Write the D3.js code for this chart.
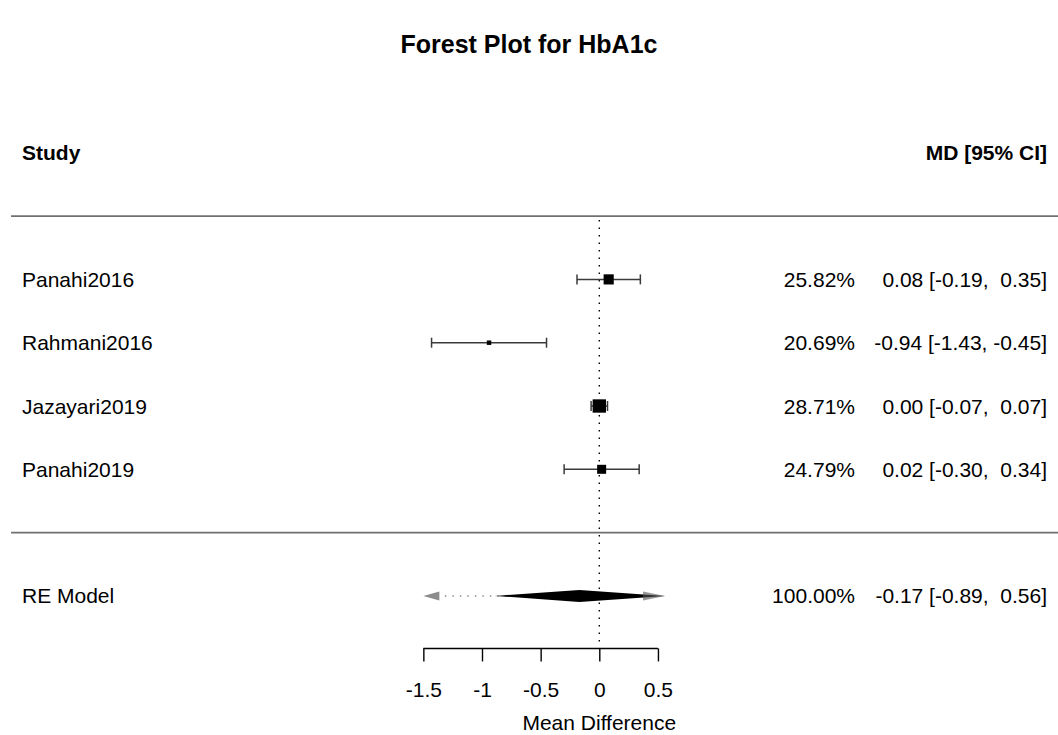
<!DOCTYPE html>
<html>
<head>
<meta charset="utf-8">
<script src="https://cdn.jsdelivr.net/npm/d3@7"></script>
<style>
  html, body { margin: 0; padding: 0; background: #fff; }
  svg text { font-family: "Liberation Sans", Arial, Helvetica, sans-serif; fill: #000; white-space: pre; }
</style>
</head>
<body>
<svg id="chart" width="1058" height="735"></svg>
<script>
// ---- data ----
const studies   = ["Panahi2016", "Rahmani2016", "Jazayari2019", "Panahi2019"];
const estimates = [0.08, -0.94, 0.00, 0.02];
const ciLower   = [-0.19, -1.43, -0.07, -0.30];
const ciUpper   = [0.35, -0.45, 0.07, 0.34];
const weights   = [25.82, 20.69, 28.71, 24.79];
const summaryLabel = ["RE Model"];
const summaryEst   = [-0.17];
const summaryLower = [-0.89];
const summaryUpper = [0.56];
const summaryWeight = [100.00];
const predShown    = [-1.5, 0.56];   // prediction interval as drawn (clipped, arrows at both ends)
const axisTicks    = [-1.5, -1, -0.5, 0, 0.5];
const tickLabels   = ["-1.5", "-1", "-0.5", "0", "0.5"];
const titleText    = "Forest Plot for HbA1c";
const xLabel       = "Mean Difference";
const headLeft     = "Study";
const headRight    = "MD [95% CI]";

// ---- layout ----
const svg = d3.select("#chart");
const x = d3.scaleLinear().domain([-1.5, 0.5]).range([423.35, 657.95]);
const y = d3.scaleLinear().domain([0, 6]).range([532.6, 152.8]);
const fs = 21;
const k = studies.length;
const rows = studies.map((d, i) => k - i);
const sumRow = -1;
const axisRow = -1.83;
const loc = d3.formatLocale({decimal: ".", thousands: ",", grouping: [3], currency: ["", ""], minus: "-"});
const f2 = loc.format(".2f");
const fpad = v => f2(v).padStart(5, " ");

// title
svg.append("text").attr("x", 529).attr("y", 53).attr("text-anchor", "middle")
  .style("font-size", "25px").style("font-weight", "bold").text(titleText);

// headers
svg.append("text").attr("x", 22).attr("y", y(6) + 7.5).style("font-size", fs + "px")
  .style("font-weight", "bold").text(headLeft);
svg.append("text").attr("x", 1047).attr("y", y(6) + 7.5).attr("text-anchor", "end")
  .style("font-size", fs + "px").style("font-weight", "bold").text(headRight);

// horizontal separators
[5, 0].forEach(r => {
  svg.append("line").attr("x1", 11).attr("x2", 1058).attr("y1", y(r)).attr("y2", y(r))
    .attr("stroke", "#707070").attr("stroke-width", 1.6);
});

// reference line at 0
svg.append("line").attr("x1", x(0)).attr("x2", x(0)).attr("y1", y(5) + 4).attr("y2", y(axisRow) - 5)
  .attr("stroke", "#000").attr("stroke-width", 1.4).attr("stroke-dasharray", "1.5,6");

// study CIs
const g = svg.append("g");
const wMin = d3.min(weights), wMax = d3.max(weights);
const psize = d3.scaleLinear().domain([wMin, wMax]).range([0.5, 1.5]);
const unit = 8.9;
studies.forEach((s, i) => {
  const yy = y(rows[i]);
  g.append("line").attr("x1", x(ciLower[i])).attr("x2", x(ciUpper[i])).attr("y1", yy).attr("y2", yy)
    .attr("stroke", "#3a3a3a").attr("stroke-width", 1.5);
  [ciLower[i], ciUpper[i]].forEach(v => {
    g.append("line").attr("x1", x(v)).attr("x2", x(v)).attr("y1", yy - 5).attr("y2", yy + 5)
      .attr("stroke", "#3a3a3a").attr("stroke-width", 1.5);
  });
  const sz = psize(weights[i]) * unit;
  g.append("rect").attr("x", x(estimates[i]) - sz / 2).attr("y", yy - sz / 2)
    .attr("width", sz).attr("height", sz).attr("fill", "#000");
  // labels
  g.append("text").attr("x", 22).attr("y", yy + 7.5).style("font-size", fs + "px").text(s);
  g.append("text").attr("x", 855).attr("y", yy + 7.5).attr("text-anchor", "end")
    .style("font-size", fs + "px").text(f2(weights[i]) + "%");
  g.append("text").attr("x", 1047).attr("y", yy + 7.5).attr("text-anchor", "end")
    .style("font-size", fs + "px")
    .text(fpad(estimates[i]) + " [" + fpad(ciLower[i]) + ", " + fpad(ciUpper[i]) + "]");
});

// summary
const ys = y(sumRow);
const grey = "#8c8c8c";
svg.append("line").attr("x1", x(predShown[0]) + 14).attr("x2", x(predShown[1]) - 14)
  .attr("y1", ys).attr("y2", ys).attr("stroke", grey).attr("stroke-width", 1.5)
  .attr("stroke-dasharray", "1.5,6");
const ah = 16, aw = 4.5;
svg.append("path").attr("d", `M${x(predShown[0])},${ys} L${x(predShown[0]) + ah},${ys - aw} L${x(predShown[0]) + ah},${ys + aw} Z`)
  .attr("fill", grey);
svg.append("path").attr("d", `M${x(summaryLower[0])},${ys} L${x(summaryEst[0])},${ys - 6} L${x(summaryUpper[0])},${ys} L${x(summaryEst[0])},${ys + 6} Z`)
  .attr("fill", "#000");
svg.append("path").attr("d", `M${x(predShown[1])},${ys} L${x(predShown[1]) - ah - 6},${ys - aw} L${x(predShown[1]) - ah - 6},${ys + aw} Z`)
  .attr("fill", "#555").attr("opacity", 0.6);
svg.append("text").attr("x", 22).attr("y", ys + 7.5).style("font-size", fs + "px").text(summaryLabel[0]);
svg.append("text").attr("x", 855).attr("y", ys + 7.5).attr("text-anchor", "end")
  .style("font-size", fs + "px").text(f2(summaryWeight[0]) + "%");
svg.append("text").attr("x", 1047).attr("y", ys + 7.5).attr("text-anchor", "end")
  .style("font-size", fs + "px")
  .text(fpad(summaryEst[0]) + " [" + fpad(summaryLower[0]) + ", " + fpad(summaryUpper[0]) + "]");

// axis
const axisG = svg.append("g").attr("transform", `translate(0,${y(axisRow)})`)
  .call(d3.axisBottom(x).tickValues(axisTicks).tickFormat((d, i) => tickLabels[i]).tickSize(13).tickPadding(21));
axisG.select(".domain").attr("d", `M${x(-1.5)},0H${x(0.5)}`).attr("stroke", "#000").attr("stroke-width", 1.4);
axisG.selectAll(".tick line").attr("stroke", "#000").attr("stroke-width", 1.4);
axisG.selectAll(".tick text").style("font-size", fs + "px").attr("fill", "#000")
  .style("font-family", '"Liberation Sans", Arial, Helvetica, sans-serif');

svg.append("text").attr("x", x(0)).attr("y", 730).attr("text-anchor", "middle")
  .style("font-size", fs + "px").text(xLabel);
</script>
</body>
</html>
